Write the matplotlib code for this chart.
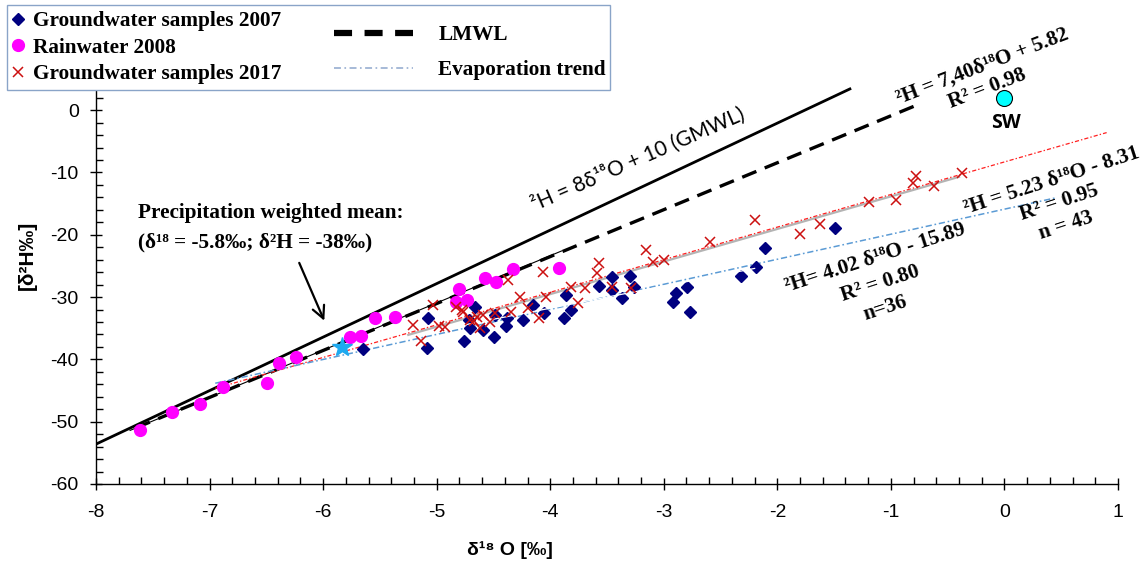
import matplotlib
matplotlib.use("Agg")
import matplotlib.pyplot as plt
from matplotlib.lines import Line2D
from matplotlib.patches import Rectangle
from matplotlib.ticker import MultipleLocator

plt.rcParams['lines.scale_dashes'] = False
plt.rcParams['axes.unicode_minus'] = False

# ---------------- data ----------------
rain_x = [-7.61, -7.33, -7.08, -6.88, -6.49, -6.39, -6.24, -5.76, -5.67, -5.54,
          -5.37, -4.80, -4.83, -4.73, -4.57, -4.48, -4.33, -3.92]
rain_y = [-51.4, -48.5, -47.2, -44.5, -43.8, -40.6, -39.6, -36.4, -36.3, -33.4,
          -33.2, -28.7, -30.8, -30.5, -27.0, -27.6, -25.5, -25.4]

gw07_x = [-5.075, -5.089, -4.758, -4.664, -4.717, -4.708, -4.591, -4.496, -4.488, -4.391,
          -4.379, -4.239, -4.150, -4.056, -3.878, -3.857, -3.813, -3.570, -3.458, -3.452,
          -3.364, -3.299, -3.261, -2.918, -2.888, -2.795, -2.771, -5.647, -2.322, -2.190,
          -2.111, -1.495]
gw07_y = [-33.3, -38.2, -37.0, -31.6, -33.7, -35.0, -35.3, -36.4, -32.9, -34.7,
          -33.3, -33.7, -31.3, -32.6, -33.3, -29.7, -32.1, -28.3, -28.8, -26.8,
          -30.2, -26.6, -28.4, -30.8, -29.4, -28.4, -32.4, -38.3, -26.6, -25.2,
          -22.2, -18.9]

gw17_x = [-5.207, -5.142, -4.978, -5.031, -4.831, -4.781, -4.708, -4.649, -4.620, -4.591,
          -4.488, -4.371, -4.341, -4.268, -4.195, -4.098, -4.062, -4.033, -3.813, -3.754,
          -3.695, -3.592, -3.572, -3.455, -3.293, -3.158, -3.094, -2.997, -2.595, -2.199,
          -1.803, -1.627, -1.193, -0.952, -0.806, -0.776, -0.623, -0.371, -4.772, -4.673,
          -4.930, -4.532]
gw17_y = [-34.5, -37.0, -34.7, -31.3, -31.6, -32.0, -33.7, -33.2, -34.9, -32.9,
          -32.6, -27.2, -32.4, -30.0, -31.8, -33.3, -26.0, -30.0, -28.4, -31.0,
          -28.6, -26.2, -24.5, -28.4, -28.6, -22.4, -24.3, -24.0, -21.1, -17.7,
          -19.9, -18.3, -14.7, -14.4, -11.7, -10.6, -12.2, -10.1, -32.4, -33.9,
          -34.8, -34.0]

# lines (end points)
gmwl_x = [-8.0, -1.35]
gmwl_y = [-53.6, 3.5]
lmwl_x = [-7.65, -0.80]
lmwl_y = [-51.0, 0.6]
rain_trend_x = [-7.70, -3.90]
rain_trend_y = [-51.4, -22.6]
trend17_x = [-6.95, 0.90]
trend17_y = [5.23 * v - 8.31 for v in trend17_x]
gray_x = [-5.25, -0.40]
gray_y = [5.23 * v - 8.61 for v in gray_x]
evap_x = [-6.95, 0.46]
evap_y = [4.02 * v - 15.89 for v in evap_x]
white_x = [-4.85, -2.20]
white_y = [-34.8, -25.4]

pwm_x, pwm_y = [-5.83], [-38.0]
sw_x, sw_y = [0.0], [1.9]

# ---------------- figure ----------------
fig = plt.figure(figsize=(11.45, 5.63), dpi=100)
ax = fig.add_axes([96 / 1145, 1 - 484 / 563, 1022 / 1145, (484 - 79) / 563])
ax.set_xlim(-8, 1)
ax.set_ylim(-60, 5)

serif = ['Liberation Serif', 'DejaVu Serif']
sans = ['Liberation Sans', 'DejaVu Sans']

# lines
ax.plot(gmwl_x, gmwl_y, color='black', lw=2.0, solid_capstyle='butt', zorder=2)
ax.plot(lmwl_x, lmwl_y, color='black', lw=2.4, dashes=(11, 6.5), zorder=2)
ax.plot(rain_trend_x, rain_trend_y, color='black', lw=0.8, zorder=2)
ax.plot(gray_x, gray_y, color='#b4b4b4', lw=1.6, zorder=2)
ax.plot(trend17_x, trend17_y, color='#ff2020', lw=0.9, dashes=(3, 1.5, 1, 1.5), zorder=3)
ax.plot(evap_x, evap_y, color='#5b9bd5', lw=1.1, dashes=(4.5, 2, 1.2, 2), zorder=3)

# points
ax.plot(gw07_x, gw07_y, ls='none', marker='D', ms=6.5, color='#000080', mec='#000080', zorder=4)
ax.plot(white_x, white_y, color='white', lw=0.9, zorder=4.5)
ax.plot(rain_x, rain_y, ls='none', marker='o', ms=8.5, color='#ff00ff', mec='#ff00ff', zorder=4)
ax.plot(gw17_x, gw17_y, ls='none', marker='x', ms=7.8, mew=1.1, color='#cc1010', zorder=5)
ax.plot(pwm_x, pwm_y, ls='none', marker='*', ms=15, color='#1eaaf0', mec='#1eaaf0', zorder=6)
ax.plot(sw_x, sw_y, ls='none', marker='o', ms=11.5, color='#00ffff', mec='black', mew=0.8, zorder=6)

# axes styling
for s in ['top', 'right']:
    ax.spines[s].set_visible(False)
for s in ['left', 'bottom']:
    ax.spines[s].set_linewidth(1.0)
ax.xaxis.set_major_locator(MultipleLocator(1))
ax.xaxis.set_minor_locator(MultipleLocator(0.2))
ax.yaxis.set_major_locator(MultipleLocator(10))
ax.yaxis.set_minor_locator(MultipleLocator(2))
ax.tick_params(which='major', direction='inout', length=9, width=1.0, labelsize=14)
ax.tick_params(axis='x', which='major', pad=10)
ax.tick_params(axis='y', which='major', pad=8)
ax.tick_params(which='minor', direction='in', length=5, width=1.0)
ax.set_yticks([0, -10, -20, -30, -40, -50, -60])
for lab in ax.get_xticklabels() + ax.get_yticklabels():
    lab.set_family(sans)

ax.set_ylabel('[δ²H‰]', family=sans, fontweight='bold', fontsize=15)
ax.yaxis.set_label_coords(-0.058, 0.565)
ax.set_xlabel('δ¹⁸ O [‰]', family=sans, fontweight='bold', fontsize=14)
ax.xaxis.set_label_coords(0.405, -0.141)

# annotations
ax.text(-3.23, -7.9, '²H = 8δ¹⁸O + 10 (GMWL)', family=['Lato', 'DejaVu Sans'], fontsize=15,
        rotation=23.5, rotation_mode='anchor', ha='center', va='center')
tb = dict(family=serif, fontweight='bold', fontsize=15.3, ha='center', va='center',
          rotation_mode='anchor')
ax.text(-0.19, 7.0, '²H = 7,40δ¹⁸O + 5.82', rotation=21, **tb)
ax.text(-0.15, 3.5, 'R² = 0.98', rotation=21, **tb)
ax.text(0.42, -11.4, '²H = 5.23 δ¹⁸O - 8.31', rotation=18, **tb)
ax.text(0.48, -14.8, 'R² = 0.95', rotation=18, **tb)
ax.text(0.54, -18.5, 'n = 43', rotation=18, **tb)
ax.text(-1.14, -23.8, '²H= 4.02 δ¹⁸O - 15.89', rotation=18, **tb)
ax.text(-1.09, -27.9, 'R² = 0.80', rotation=18, **tb)
ax.text(-1.05, -31.8, 'n=36', rotation=18, **tb)
ax.text(0.01, -2.1, 'SW', family=['Open Sans', 'DejaVu Sans'], fontweight='bold',
        fontsize=14, ha='center', va='center')

ax.text(-7.63, -16.5, 'Precipitation weighted mean:', family=serif, fontweight='bold',
        fontsize=15.3, ha='left', va='center')
ax.text(-7.63, -21.2, '(δ¹⁸ = -5.8‰; δ²H = -38‰)', family=serif, fontweight='bold',
        fontsize=15.3, ha='left', va='center')
ax.annotate('', xy=(-5.98, -34.2), xytext=(-6.22, -24.1),
            arrowprops=dict(arrowstyle='->', color='black', lw=1.6, mutation_scale=22))

# legend box
fig.patches.append(Rectangle((7 / 1145, 1 - 90 / 563), 603 / 1145, 85 / 563,
                             transform=fig.transFigure, facecolor='white',
                             edgecolor='#8aa4c8', lw=1.0, zorder=10))
legfont = dict(family=serif, weight='bold', size=15.3)
h1 = [Line2D([], [], ls='none', marker='D', ms=6.5, color='#000080'),
      Line2D([], [], ls='none', marker='o', ms=8.5, color='#ff00ff'),
      Line2D([], [], ls='none', marker='x', ms=7.8, mew=1.1, color='#cc1010')]
l1 = ['Groundwater samples 2007', 'Rainwater 2008', 'Groundwater samples 2017']
leg1 = fig.legend(h1, l1, loc='upper left', bbox_to_anchor=(5 / 1145, 1 - 7 / 563),
                  frameon=False, prop=legfont,
                  handlelength=0.8, handletextpad=0.3, labelspacing=0.3,
                  borderaxespad=0, borderpad=0.2)
leg1.set_zorder(11)
h2 = [Line2D([], [], color='black', lw=4.5, dashes=(13, 9)),
      Line2D([], [], color='#9fb4d4', lw=1.3, dashes=(5, 2.5, 1.2, 2.5))]
l2 = ['LMWL', 'Evaporation trend']
leg2 = fig.legend(h2, l2, loc='upper left', bbox_to_anchor=(330 / 1145, 1 - 21 / 563),
                  frameon=False, prop=legfont,
                  handlelength=3.7, handletextpad=1.2, labelspacing=0.7,
                  borderaxespad=0, borderpad=0.2)
leg2.set_zorder(11)

fig.savefig('out.png', dpi=100)
